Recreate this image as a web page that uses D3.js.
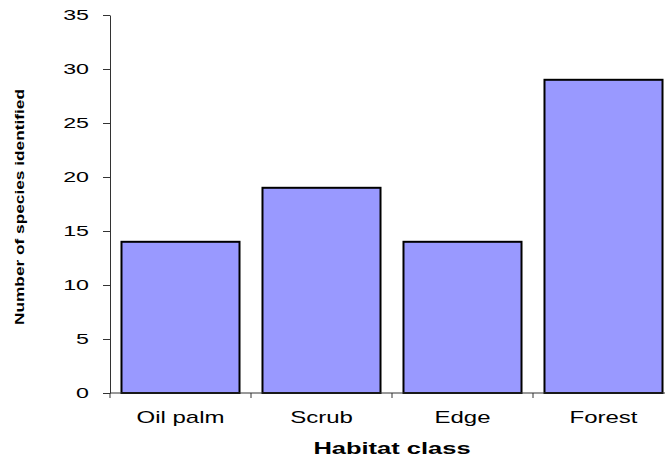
<!DOCTYPE html>
<html>
<head>
<meta charset="utf-8">
<script src="https://cdn.jsdelivr.net/npm/d3@7"></script>
<style>
  html, body { margin: 0; padding: 0; background: #fff; }
  svg { display: block; font-family: "Liberation Sans", Arial, sans-serif; }
</style>
</head>
<body>
<svg id="chart" width="665" height="459"></svg>
<script>
// Species richness per habitat class
const categories = ["Oil palm", "Scrub", "Edge", "Forest"];
const speciesCounts = [14, 19, 14, 29];
const yTicks = [0, 5, 10, 15, 20, 25, 30, 35];

const svg = d3.select("#chart");
const plot = { left: 110, right: 674, top: 15, bottom: 393 };

const x = d3.scaleBand()
  .domain(categories)
  .range([plot.left, plot.right])
  .paddingInner(0.163)
  .paddingOuter(0.0815);

const y = d3.scaleLinear()
  .domain([0, 35])
  .range([plot.bottom, plot.top]);

const axisColor = "#333";
const wide = 1.5;   // horizontal stretch of the label type

// Bars
svg.append("g")
  .selectAll("rect")
  .data(categories.map((c, i) => ({ c, v: speciesCounts[i] })))
  .join("rect")
  .attr("x", d => x(d.c))
  .attr("y", d => y(d.v))
  .attr("width", x.bandwidth())
  .attr("height", d => y(0) - y(d.v))
  .attr("fill", "#9999ff")
  .attr("stroke", "#000")
  .attr("stroke-width", 2);

// Y axis
const yAxis = d3.axisLeft(y).tickValues(yTicks).tickSize(7).tickSizeOuter(0).tickFormat("");
const gy = svg.append("g")
  .attr("transform", `translate(${plot.left},0)`)
  .call(yAxis);
gy.select(".domain").attr("stroke", axisColor);
gy.selectAll(".tick line").attr("stroke", axisColor);
gy.selectAll(".tick text").remove();
svg.append("g")
  .selectAll("text")
  .data(yTicks)
  .join("text")
  .attr("transform", d => `translate(89, ${y(d)}) scale(1.6, 1)`)
  .attr("text-anchor", "end")
  .attr("dy", "0.36em")
  .style("font-size", "14.5px")
  .text(d => d);

// X axis: baseline with ticks on the category boundaries
const gx = svg.append("g");
gx.append("line")
  .attr("x1", plot.left).attr("x2", plot.right)
  .attr("y1", y(0)).attr("y2", y(0))
  .attr("stroke", axisColor);
const boundaries = categories.map(c => x(c) - x.step() * x.paddingInner() / 2)
  .concat([plot.right]);
gx.selectAll("line.tick")
  .data(boundaries)
  .join("line")
  .attr("class", "tick")
  .attr("x1", d => d).attr("x2", d => d)
  .attr("y1", y(0)).attr("y2", y(0) + 5)
  .attr("stroke", axisColor);
gx.selectAll("text")
  .data(categories)
  .join("text")
  .attr("transform", d => `translate(${x(d) + x.bandwidth() / 2}, 423) scale(${wide}, 1)`)
  .attr("text-anchor", "middle")
  .style("font-size", "16px")
  .text(d => d);

// Axis titles
svg.append("text")
  .attr("transform", `translate(${(plot.left + plot.right) / 2}, 454) scale(${wide}, 1)`)
  .attr("text-anchor", "middle")
  .style("font-size", "17px")
  .style("font-weight", "bold")
  .text("Habitat class");

svg.append("text")
  .attr("transform", `translate(23.5, 207) rotate(-90)`)
  .attr("text-anchor", "middle")
  .attr("textLength", 236)
  .attr("lengthAdjust", "spacingAndGlyphs")
  .style("font-size", "13.5px")
  .style("font-weight", "bold")
  .text("Number of species identified");
</script>
</body>
</html>
